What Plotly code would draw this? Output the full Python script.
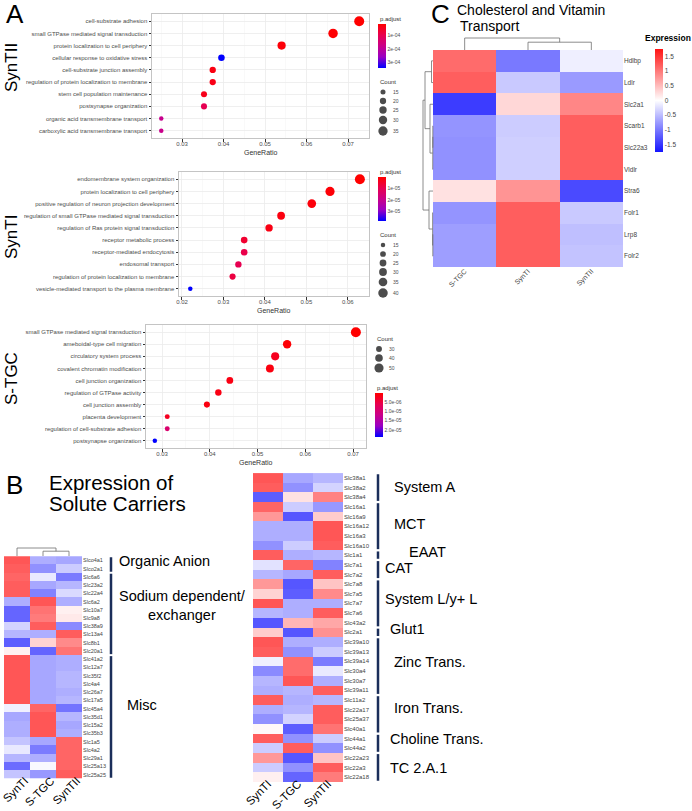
import plotly.graph_objects as go

W, H = 692, 811          # browser window in pixels
FONT = "Liberation Sans, Arial, Helvetica, sans-serif"

# ---------------- Panel A data (GO enrichment) ----------------
syntii_terms = ["cell-substrate adhesion", "small GTPase mediated signal transduction",
                "protein localization to cell periphery", "cellular response to oxidative stress",
                "cell-substrate junction assembly", "regulation of protein localization to membrane",
                "stem cell population maintenance", "postsynapse organization",
                "organic acid transmembrane transport", "carboxylic acid transmembrane transport"]
syntii_ratio = [0.0727, 0.0664, 0.0540, 0.0395, 0.0374, 0.0374, 0.0353, 0.0353, 0.0250, 0.0250]
syntii_count = [39, 36, 29, 21, 20, 20, 19, 19, 13, 13]
syntii_padj = [1.2e-5, 1.5e-5, 2.0e-5, 3.46e-4, 3.0e-5, 3.5e-5, 4.0e-5, 1.0e-4, 1.85e-4, 1.8e-4]
syntii_cb_vals = [1e-4, 2e-4, 3e-4]
syntii_cb_text = ["1e-04", "2e-04", "3e-04"]
syntii_leg_counts = [15, 20, 25, 30, 35]

synti_terms = ["endomembrane system organization", "protein localization to cell periphery",
               "positive regulation of neuron projection development",
               "regulation of small GTPase mediated signal transduction",
               "regulation of Ras protein signal transduction", "receptor metabolic process",
               "receptor-mediated endocytosis", "endosomal transport",
               "regulation of protein localization to membrane",
               "vesicle-mediated transport to the plasma membrane"]
synti_ratio = [0.0629, 0.0557, 0.0513, 0.0439, 0.0410, 0.0350, 0.0350, 0.0336, 0.0322, 0.0220]
synti_count = [43, 38, 35, 30, 28, 24, 24, 23, 22, 15]
synti_padj = [2e-7, 1.0e-6, 1.5e-6, 2.0e-6, 2.5e-6, 6.0e-6, 9.0e-6, 1.0e-5, 8.0e-6, 3.8e-5]
synti_cb_vals = [1e-5, 2e-5, 3e-5]
synti_cb_text = ["1e-05", "2e-05", "3e-05"]
synti_leg_counts = [15, 20, 25, 30, 35, 40]

stgc_terms = ["small GTPase mediated signal transduction", "ameboidal-type cell migration",
              "circulatory system process", "covalent chromatin modification",
              "cell junction organization", "regulation of GTPase activity", "cell junction assembly",
              "placenta development", "regulation of cell-substrate adhesion", "postsynapse organization"]
stgc_ratio = [0.0706, 0.0562, 0.0537, 0.0526, 0.0442, 0.0418, 0.0394, 0.0311, 0.0311, 0.0285]
stgc_count = [56, 45, 43, 42, 35, 33, 31, 25, 25, 23]
stgc_padj = [1e-7, 5e-7, 2.4e-6, 1.2e-6, 1.5e-6, 1.5e-6, 1.2e-6, 2.6e-6, 9.0e-6, 2.38e-5]
stgc_cb_vals = [5e-6, 1e-5, 1.5e-5, 2e-5]
stgc_cb_text = ["5.0e-06", "1.0e-05", "1.5e-05", "2.0e-05"]
stgc_leg_counts = [30, 40, 50]

# ---------------- Panel C data ----------------
c_cols = ["S-TGC", "SynTI", "SynTII"]
c_rows = ["Hdlbp", "Ldlr", "Slc2a1", "Scarb1", "Slc22a3", "Vldlr", "Stra6", "Folr1", "Lrp8", "Folr2"]
c_stgc = [1.1, 1.2, -1.45, -0.8, -0.82, -0.82, 0.22, -0.8, -0.72, -0.72]
c_synti = [-1.0, -0.4, 0.3, -0.38, -0.36, -0.36, 0.8, 1.2, 1.2, 1.2]
c_syntii = [-0.12, -0.75, 0.9, 1.2, 1.2, 1.2, -1.35, -0.4, -0.48, -0.45]
c_col_merges = [(1, 2, 0.65), (0, 3, 1.0)]
c_row_merges = [(3, 4, 0.02), (10, 5, 0.03), (2, 11, 0.3), (0, 1, 0.15), (13, 12, 0.8),
                (8, 9, 0.02), (7, 15, 0.04), (6, 16, 0.4), (14, 17, 1.0)]
c_cb_vals = [-1.5, -1, -0.5, 0, 0.5, 1, 1.5]
c_cb_text = ["-1.5", "-1", "-0.5", "0", "0.5", "1", "1.5"]

# ---------------- Panel B data ----------------
b_cols = ["SynTI", "S-TGC", "SynTII"]
bl_rows = ["Slco4a1", "Slco2a1", "Slc6a6", "Slc23a2", "Slc22a4", "Slc6a2", "Slc10a7", "Slc9a8",
           "Slc38a9", "Slc13a4", "Slc8b1", "Slc20a1", "Slc41a2", "Slc12a7", "Slc35f2", "Slc4a4",
           "Slc26a7", "Slc17a5", "Slc45a4", "Slc35d1", "Slc15a2", "Slc35b3", "Slc1a5", "Slc4a2",
           "Slc29a1", "Slc25a13", "Slc25a25"]
bl_synti = [1.15, 1.1, 1.05, 1.1, 1.1, -0.55, -1.05, -1.05, -0.3, -0.5, -1.1, 0.1, 1.15, 1.15,
            1.15, 1.15, 1.15, 1.15, -0.1, -0.6, -0.55, -0.55, -0.4, -0.15, -0.5, -1.0, -0.4]
bl_stgc = [-0.55, -0.75, -0.15, -0.6, -0.85, 1.15, 0.95, 0.9, 1.1, -0.55, 0.3, -1.05, -0.6, -0.6,
           -0.6, -0.6, -0.6, -0.6, 1.05, 1.15, 1.15, 1.15, -0.6, -0.9, -0.55, -0.05, -0.7]
bl_syntii = [-0.6, -0.35, -0.9, -0.5, -0.25, -0.55, 0.1, 0.15, -0.8, 1.1, 0.8, 0.95, -0.55, -0.55,
             -0.5, -0.5, -0.55, -0.5, -0.95, -0.5, -0.6, -0.55, 1.05, 1.05, 1.05, 1.05, 1.1]
bl_col_merges = [(1, 2, 0.6), (0, 3, 1.0)]
bl_groups = ["Organic Anion", "Sodium dependent/<br>exchanger", "Misc"]
bl_group_sizes = [2, 10, 15]

br_rows = ["Slc38a1", "Slc38a2", "Slc38a4", "Slc16a1", "Slc16a9", "Slc16a12", "Slc16a3", "Slc16a10",
           "Slc1a1", "Slc7a1", "Slc7a2", "Slc7a8", "Slc7a5", "Slc7a7", "Slc7a6", "Slc43a2", "Slc2a1",
           "Slc39a10", "Slc39a13", "Slc39a14", "Slc30a4", "Slc30a7", "Slc39a11", "Slc11a2",
           "Slc22a17", "Slc25a37", "Slc40a1", "Slc44a1", "Slc44a2", "Slc22a23", "Slc22a3", "Slc22a18"]
br_synti = [1.15, 1.1, -1.1, 1.05, 0.7, -0.55, -0.55, -0.75, 1.1, -0.2, -0.5, 0.7, 0.3, 1.15, -0.5,
            -1.15, 0.35, 1.15, 1.1, -0.1, -0.8, -0.5, -0.55, 1.1, -0.55, -0.75, 0.05, 1.1, -0.35,
            0.7, -0.35, 0.1]
br_stgc = [-0.6, -0.75, 0.2, -0.35, -1.15, -0.55, -0.55, -0.35, -0.55, 1.05, -0.6, -1.15, -1.1,
           -0.55, -0.55, 0.5, -1.15, -0.55, -0.75, 1.0, 1.0, 1.15, -0.5, -0.55, -0.5, -0.3, -1.1,
           -0.75, 1.1, -1.15, -0.75, -1.05]
br_syntii = [-0.5, -0.3, 0.85, -0.7, 0.35, 1.15, 1.15, 1.1, -0.5, -0.85, 1.1, 0.4, 0.8, -0.55, 1.1,
             0.6, 0.75, -0.55, -0.35, -0.9, -0.15, -0.55, 1.1, -0.5, 1.1, 1.1, 0.95, -0.35, -0.75,
             0.4, 1.1, 0.9]
br_groups = ["System A", "MCT", "EAAT", "CAT", "System L/y+ L", "Glut1", "Zinc Trans.",
             "Iron Trans.", "Choline Trans.", "TC 2.A.1"]
br_group_sizes = [3, 5, 1, 2, 5, 1, 6, 4, 2, 3]

# ---------------- layout geometry (window pixels) ----------------
GEO = {
    "syntii": dict(x=(152, 369), y=(14, 138), xr=(0.02277, 0.07506)),
    "synti": dict(x=(179, 369), y=(172, 296), xr=(0.01928, 0.0651)),
    "stgc": dict(x=(146, 366), y=(325, 448), xr=(0.02665, 0.07272)),
    "c": dict(x=(433, 623), y=(50, 267)),
    "bl": dict(x=(4, 82), y=(556, 779)),
    "br": dict(x=(253, 343), y=(473, 782)),
}

HEAT_SCALE = [[0, "rgb(20,20,255)"], [0.5, "rgb(255,255,255)"], [1, "rgb(255,20,20)"]]
P_SCALE = [[0, "rgb(0,0,255)"], [0.25, "rgb(154,0,195)"], [0.5, "rgb(202,0,137)"],
           [0.75, "rgb(232,0,79)"], [1, "rgb(255,0,0)"]]


def dom_x(a, b):
    return [a / W, b / W]


def dom_y(a, b):
    return [1 - b / H, 1 - a / H]


def paper_x(a):
    return a / W


def paper_y(a):
    return 1 - a / H


def dot_size(c, cmin, cmax, dmin=4.5, dmax=10.0):
    t = (c ** 0.5 - cmin ** 0.5) / (cmax ** 0.5 - cmin ** 0.5)
    return dmin + t * (dmax - dmin)


fig = go.Figure()
annotations = []
shapes = []
layout_axes = {}


def text(x, y, s, size, color="black", xanchor="left", yanchor="middle", angle=0):
    annotations.append(dict(x=x, y=y, xref="x7", yref="y7", text=s, showarrow=False,
                            font=dict(family=FONT, size=size, color=color),
                            xanchor=xanchor, yanchor=yanchor, textangle=angle))


def dot_panel(k, key, terms, ratio, count, padj, cb_vals, cb_text, cb_pos, cnt_title, cnt_ys, cnt_x,
              leg_counts, pa_title):
    g = GEO[key]
    cmin, cmax = min(count), max(count)
    sizes = [dot_size(c, cmin, cmax) for c in count]
    pmin, pmax = min(padj), max(padj)
    fig.add_trace(go.Scatter(
        x=ratio, y=terms, mode="markers", xaxis=f"x{k}", yaxis=f"y{k}", hoverinfo="skip",
        marker=dict(size=sizes, color=[-p for p in padj], colorscale=P_SCALE, cmin=-pmax, cmax=-pmin,
                    opacity=1, line=dict(width=0), showscale=True,
                    colorbar=dict(x=paper_x(cb_pos[0]), xanchor="left", y=paper_y(cb_pos[1]), yanchor="top",
                                  len=44, lenmode="pixels", thickness=8, thicknessmode="pixels",
                                  xpad=0, ypad=0, outlinewidth=0, ticks="",
                                  tickvals=[-v for v in cb_vals], ticktext=cb_text,
                                  tickfont=dict(family=FONT, size=5, color="#4D4D4D"))),
        showlegend=False))
    n = len(terms)
    axcommon = dict(showline=True, mirror=True, linecolor="#C4C4C4", linewidth=1, ticks="outside",
                    ticklen=2.5, tickcolor="#333333", zeroline=False, automargin=False,
                    tickfont=dict(family=FONT, size=6, color="#4D4D4D"),
                    showgrid=True, gridcolor="#EBEBEB", gridwidth=0.8)
    layout_axes[f"xaxis{k}"] = dict(axcommon, domain=dom_x(*g["x"]), range=list(g["xr"]), anchor=f"y{k}",
                                    dtick=0.01, tick0=0, tickformat=".2f", ticklabelstandoff=-3,
                                    minor=dict(dtick=0.005, showgrid=True, gridcolor="#F4F4F4", gridwidth=0.5))
    layout_axes[f"yaxis{k}"] = dict(axcommon, domain=dom_y(*g["y"]), anchor=f"x{k}", type="category",
                                    categoryorder="array", categoryarray=terms, range=[n - 0.4, -0.6])
    cx = (g["x"][0] + g["x"][1]) / 2
    text(cx, g["y"][1] + 14, "GeneRatio", 7, color="#333333", xanchor="center")
    # legends
    text(pa_title[0], pa_title[1], "p.adjust", 6, color="#333333")
    text(cnt_title[0], cnt_title[1], "Count", 6, color="#333333")
    fig.add_trace(go.Scatter(
        x=[cnt_x] * len(leg_counts), y=cnt_ys, mode="markers", xaxis="x7", yaxis="y7",
        marker=dict(size=[dot_size(c, cmin, cmax) for c in leg_counts], color="black", line=dict(width=0)),
        hoverinfo="skip", showlegend=False))
    for c, yv in zip(leg_counts, cnt_ys):
        text(cnt_x + 8, yv, str(c), 5, color="#4D4D4D")


dot_panel(1, "syntii", syntii_terms, syntii_ratio, syntii_count, syntii_padj, syntii_cb_vals,
          syntii_cb_text, (378, 24), (378, 82), [92, 101, 110, 120, 131], 383, syntii_leg_counts, (378, 19))
dot_panel(2, "synti", synti_terms, synti_ratio, synti_count, synti_padj, synti_cb_vals,
          synti_cb_text, (378, 177), (378, 235), [245, 254, 263, 272, 282, 293], 383, synti_leg_counts, (378, 172))
dot_panel(3, "stgc", stgc_terms, stgc_ratio, stgc_count, stgc_padj, stgc_cb_vals,
          stgc_cb_text, (375, 393), (375, 339), [349, 358, 368], 379, stgc_leg_counts, (375, 388))


# ---------------- heatmaps ----------------
def heat_panel(k, key, cols, rows, colvals, zlim, rowfont, colfont, colcolor, standoff, shift=0,
               show_cb=False, cb=None):
    g = GEO[key]
    z = [list(v) for v in zip(*colvals)]
    tr = go.Heatmap(z=z, x=cols, y=rows, xaxis=f"x{k}", yaxis=f"y{k}", colorscale=HEAT_SCALE,
                    zmin=-zlim, zmax=zlim, showscale=show_cb, hoverinfo="skip")
    if show_cb:
        tr.colorbar = cb
    fig.add_trace(tr)
    layout_axes[f"xaxis{k}"] = dict(domain=dom_x(*g["x"]), anchor=f"y{k}", type="category", tickangle=-45,
                                    ticks="", showgrid=False, zeroline=False, showline=False, automargin=False,
                                    ticklabelstandoff=standoff, ticklabelshift=shift,
                                    tickfont=dict(family=FONT, size=colfont, color=colcolor))
    layout_axes[f"yaxis{k}"] = dict(domain=dom_y(*g["y"]), anchor=f"x{k}", type="category", side="right",
                                    autorange="reversed", ticks="", showgrid=False, zeroline=False,
                                    showline=False, automargin=False,
                                    tickfont=dict(family=FONT, size=rowfont, color="#444444"))


heat_panel(4, "c", c_cols, c_rows, [c_stgc, c_synti, c_syntii], 1.75, 6.5, 7, "#444444", -2, 0, True,
           dict(x=paper_x(655), xanchor="left", y=paper_y(49), yanchor="top", len=103, lenmode="pixels",
                thickness=7.5, thicknessmode="pixels", xpad=0, ypad=0, outlinewidth=0, ticks="",
                tickvals=c_cb_vals, ticktext=c_cb_text, tickfont=dict(family=FONT, size=6.5, color="#444444")))
heat_panel(5, "bl", b_cols, bl_rows, [bl_synti, bl_stgc, bl_syntii], 1.6, 5.5, 11.5, "black", -8, 8)
heat_panel(6, "br", b_cols, br_rows, [br_synti, br_stgc, br_syntii], 1.6, 6, 11.5, "black", -8, 0)


# ---------------- dendrograms ----------------
def dendro(leaf_pos, merges, to_xy):
    pos = list(leaf_pos)
    hgt = [0.0] * len(leaf_pos)
    xs, ys = [], []
    for a, b, h in merges:
        pts = [to_xy(pos[a], hgt[a]), to_xy(pos[a], h), to_xy(pos[b], h), to_xy(pos[b], hgt[b])]
        for p in pts:
            xs.append(p[0])
            ys.append(p[1])
        xs.append(None)
        ys.append(None)
        pos.append((pos[a] + pos[b]) / 2)
        hgt.append(h)
    fig.add_trace(go.Scatter(x=xs, y=ys, mode="lines", xaxis="x7", yaxis="y7",
                             line=dict(color="#707070", width=0.8), hoverinfo="skip", showlegend=False))


def centers(a, b, n):
    return [a + (i + 0.5) * (b - a) / n for i in range(n)]


gc = GEO["c"]
dendro(centers(*gc["x"], len(c_cols)), c_col_merges, lambda p, h: (p, gc["y"][0] - h * 12))
dendro(centers(*gc["y"], len(c_rows)), c_row_merges, lambda p, h: (gc["x"][0] - h * 10, p))
gbl = GEO["bl"]
dendro(centers(*gbl["x"], len(b_cols)), bl_col_merges, lambda p, h: (p, gbl["y"][0] - h * 8))


# ---------------- group brackets ----------------
def groups(k, key, names, sizes, bar_x, label_x, dys, size):
    g = GEO[key]
    nrows = sum(sizes)
    rh = (g["y"][1] - g["y"][0]) / nrows
    start = 0
    for name, n, lx, dy in zip(names, sizes, label_x, dys):
        shapes.append(dict(type="line", xref="x7", yref=f"y{k}", x0=bar_x, x1=bar_x,
                           y0=start - 0.38, y1=start + n - 1 + 0.38,
                           line=dict(color="#1B2E5A", width=2.5)))
        cy = g["y"][0] + (start + n / 2) * rh
        text(lx, cy + dy, name, size)
        start += n


groups(5, "bl", bl_groups, bl_group_sizes, 111, [117, 117, 125], [-3, -8, -12], 14.5)
groups(6, "br", br_groups, br_group_sizes, 378, [392, 392, 407, 383, 383, 388, 392, 392, 388, 388],
       [0, -2, -3, -2, -4, -3, -4, -6, -4, 0], 14.5)

# ---------------- titles & labels ----------------
text(4, 14, "A", 26)
text(4, 485, "B", 26)
text(429, 14, "C", 26)
text(11, 68, "SynTII", 17, xanchor="center", angle=-90)
text(11, 237, "SynTI", 17, xanchor="center", angle=-90)
text(11, 379, "S-TGC", 17, xanchor="center", angle=-90)
text(47, 482, "Expression of", 20.5)
text(47, 503, "Solute Carriers", 20.5)
text(455, 10, "Cholesterol and Vitamin", 14)
text(458, 26, "Transport", 14)
text(643, 38, "<b>Expression</b>", 8.5)

layout_axes["xaxis7"] = dict(domain=[0, 1], range=[0, W], visible=False, anchor="y7", fixedrange=True,
                             automargin=False)
layout_axes["yaxis7"] = dict(domain=[0, 1], range=[H, 0], visible=False, anchor="x7", fixedrange=True,
                             automargin=False)

fig.update_layout(width=W, height=H, margin=dict(l=0, r=0, t=0, b=0, pad=0, autoexpand=False),
                  paper_bgcolor="white", plot_bgcolor="rgba(0,0,0,0)", font=dict(family=FONT),
                  annotations=annotations, shapes=shapes, showlegend=False, hovermode=False, **layout_axes)
fig.write_html("out.html", config={"displayModeBar": False, "staticPlot": True},
               post_script="document.body.style.margin='0px';document.body.style.overflow='hidden';")
